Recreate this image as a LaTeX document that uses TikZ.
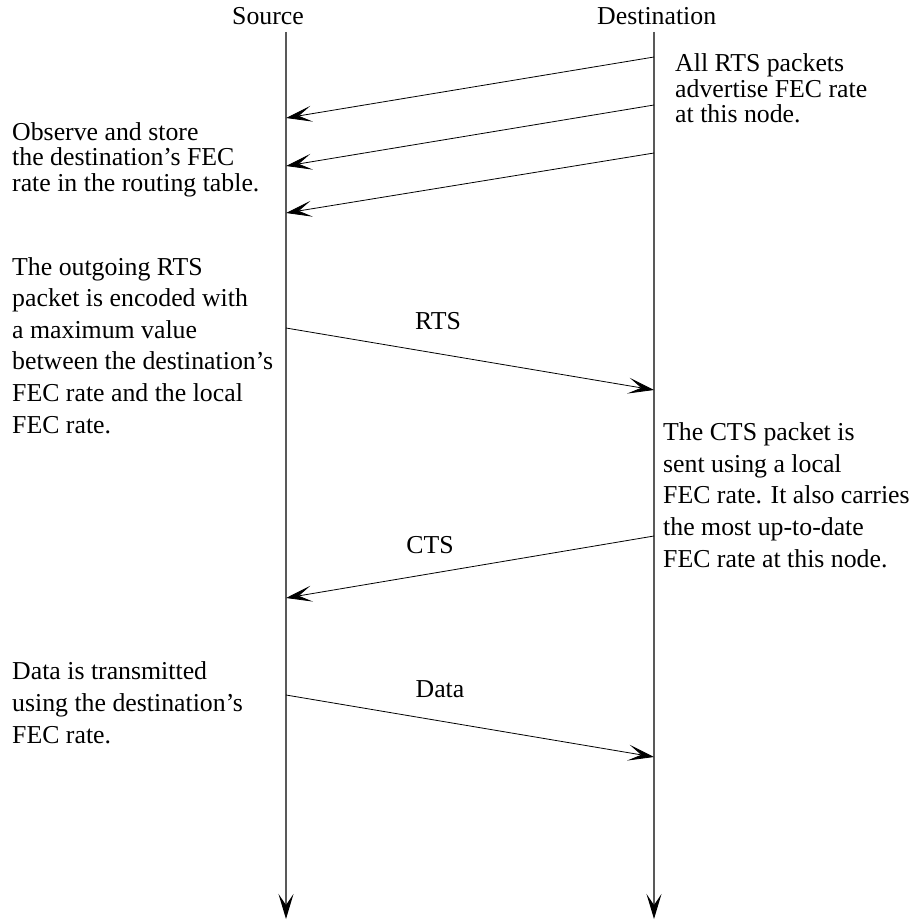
\documentclass[tikz,border=0pt]{standalone}
\usepackage{fontspec}
\setmainfont{Liberation Serif}
\usetikzlibrary{arrows.meta}
\begin{document}
\begin{tikzpicture}[x=1pt,y=-1pt,
  txt/.style={anchor=base west, inner sep=0pt, align=left, font=\fontsize{25.8}{25.5}\selectfont},
  txtw/.style={txt, font=\fontsize{25.8}{31.6}\selectfont},
  lbl/.style={anchor=base, inner sep=0pt, font=\fontsize{25.8}{25.5}\selectfont},
  msg/.style={draw=black, line width=0.8pt, -{Stealth[length=26pt,width=16pt,inset=13pt]}},
  life/.style={draw=black!65, line width=1.1pt, -{Stealth[length=25pt,width=15pt,inset=11pt,black]}}]
\useasboundingbox (0,0) rectangle (919,920);

% headers
\node[txt] (src) at (232,25) {Source};
\node[txt] (dst) at (597,25) {Destination};

% lifelines
\coordinate (s0) at (286,32);
\coordinate (s1) at (286,919);
\coordinate (d0) at (654,32);
\coordinate (d1) at (654,919);
\draw[life] (s0) -- (s1);
\draw[life] (d0) -- (d1);

% advertised RTS packets
\coordinate (a1) at (654,57);  \coordinate (b1) at (286,118);
\coordinate (a2) at (654,105); \coordinate (b2) at (286,166);
\coordinate (a3) at (654,153); \coordinate (b3) at (286,213);
\draw[msg] (a1) -- (b1);
\draw[msg] (a2) -- (b2);
\draw[msg] (a3) -- (b3);

% RTS
\coordinate (r0) at (286,328); \coordinate (r1) at (654,390);
\draw[msg] (r0) -- (r1);
\node[lbl] (rtsl) at (438,329) {RTS};

% CTS
\coordinate (c0) at (654,536); \coordinate (c1) at (286,598);
\draw[msg] (c0) -- (c1);
\node[lbl] (ctsl) at (430,553) {CTS};

% Data
\coordinate (e0) at (286,695); \coordinate (e1) at (654,757);
\draw[msg] (e0) -- (e1);
\node[lbl] (datal) at (440,697) {Data};

% text blocks (anchored at the baseline of their last line)
\node[txt] (t1) at (675,123) {All RTS packets\\advertise FEC rate\\at this node.};
\node[txt] (t2) at (12,191) {Observe and store\\the destination's FEC\\rate in the routing table.};
\node[txtw] (t3) at (12,433) {The outgoing RTS\\packet is encoded with\\a maximum value\\between the destination's\\FEC rate and the local\\FEC rate.};
\node[txtw] (t4) at (663,567) {The CTS packet is\\sent using a local\\FEC rate. It also carries\\the most up-to-date\\FEC rate at this node.};
\node[txtw] (t5) at (12,743) {Data is transmitted\\using the destination's\\FEC rate.};
\end{tikzpicture}
\end{document}
